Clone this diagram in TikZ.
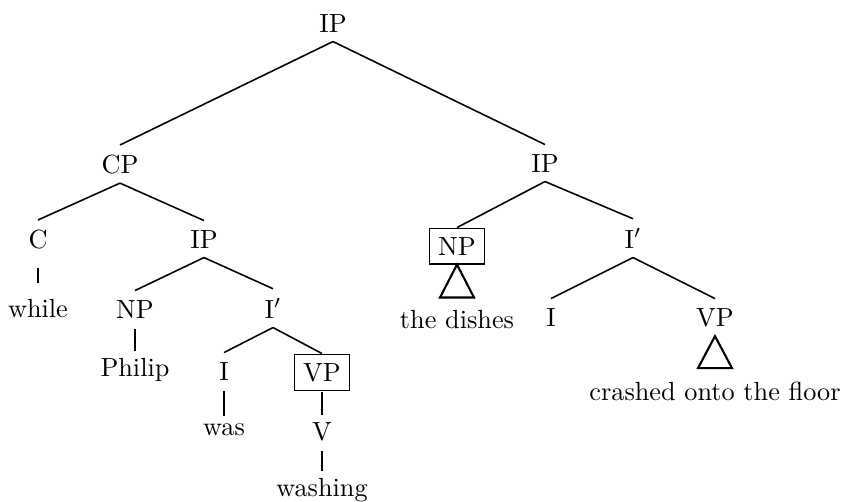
\documentclass[tikz,border=0pt]{standalone}
\usepackage{xcolor}
\usepackage{tikz}
\usetikzlibrary{arrows.meta}
\usepackage{amsmath, amssymb}

\begin{document}
\begin{tikzpicture}[x=0.381pt,y=-0.381pt,line width=0.6pt,
  cat/.style={anchor=base},
  boxcat/.style={anchor=base,draw,line width=0.6pt},
  leaf/.style={anchor=base},
  bar/.style={shorten <=0.5pt,shorten >=-1pt},
  tri/.style={line width=0.8pt,line join=miter}]
\useasboundingbox (0,0) rectangle (844,501);
%	categories
\node[cat] (ip) at (333,32) {IP};
\node[cat] (cp) at (120,173) {CP};
\node[cat] (ipr) at (545,172) {IP};
\node[cat] (c) at (38,248) {C};
\node[cat] (ipl) at (204,248) {IP};
\node[boxcat] (npr) at (457,255) {NP};
\node[cat] (ibarr) at (633,248) {I$'$};
\node[cat] (npl) at (135,318) {NP};
\node[cat] (ibarl) at (273,318) {I$'$};
\node[cat] (il) at (224,380) {I};
\node[boxcat] (vpl) at (322,381) {VP};
\node[cat] (v) at (322,440) {V};
\node[cat] (ir) at (551,326) {I};
\node[cat] (vpr) at (715,326) {VP};
%	words
\node[leaf] (while) at (38,317) {while};
\node[leaf] (philip) at (135,376) {Philip};
\node[leaf] (was) at (224,435) {was};
\node[leaf] (washing) at (322,496) {washing};
\node[leaf] (dishes) at (457,328) {the dishes};
\node[leaf] (crashed) at (715,400) {crashed onto the floor};
%	branches
\draw (ip.south) -- (cp.north)
      (ip.south) -- (ipr.north)
      (cp.south) -- (c.north)
      (cp.south) -- (ipl.north)
      (ipl.south) -- (npl.north)
      (ipl.south) -- (ibarl.north)
      (ibarl.south) -- (il.north)
      (ibarl.south) -- (vpl.north)
      (ipr.south) -- (npr.north)
      (ipr.south) -- (ibarr.north)
      (ibarr.south) -- (ir.north)
      (ibarr.south) -- (vpr.north);
%	unary bars
\draw[shorten <=3.6pt,shorten >=2.4pt] (c.south) -- (while.north);
\draw[bar] (npl.south) -- (philip.north);
\draw[bar] (il.south) -- (was.north);
\draw[bar] (vpl.south) -- (v.north);
\draw[bar] (v.south) -- (washing.north);
%	triangles
\draw[tri] (npr.south) -- ++(-17,33) -- ++(34,0) -- cycle;
\draw[tri] (vpr.south) -- ++(-17,32) -- ++(34,0) -- cycle;
\end{tikzpicture}
\end{document}
